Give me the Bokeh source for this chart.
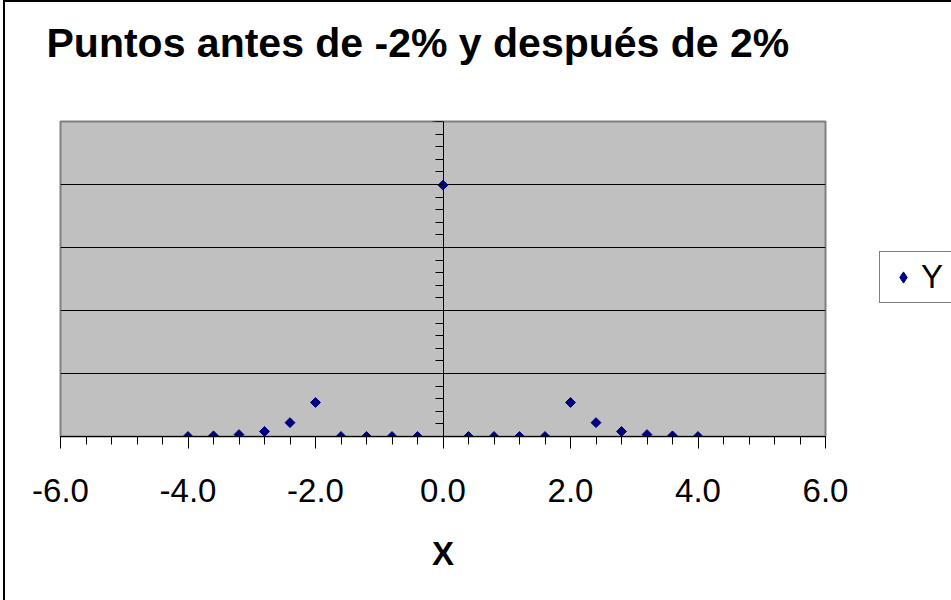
import numpy as np
from bokeh.plotting import figure
from bokeh.models import (Range1d, SingleIntervalTicker, PrintfTickFormatter,
                          Legend, LegendItem, LinearAxis, FixedTicker)
from bokeh.embed import file_html
from bokeh.resources import INLINE

# ---- data ----
x_values = [-4.0, -3.6, -3.2, -2.8, -2.4, -2.0, -1.6, -1.2, -0.8, -0.4, 0.0,
            0.4, 0.8, 1.2, 1.6, 2.0, 2.4, 2.8, 3.2, 3.6, 4.0]
y_values = [0.000, 0.001, 0.003, 0.008, 0.022, 0.054, 0.0, 0.0, 0.0, 0.0, 0.399,
            0.0, 0.0, 0.0, 0.0, 0.054, 0.022, 0.008, 0.003, 0.001, 0.000]
series_name = "Y"
title_text = "Puntos antes de -2% y después de 2%"
x_label = "X"

FONT = "Liberation Sans"
NAVY = "#000080"

p = figure(frame_width=765, frame_height=315,
           x_range=Range1d(-6, 6), y_range=Range1d(0, 0.5),
           output_backend="svg", toolbar_location=None,
           min_border_left=55, min_border_right=126,
           min_border_top=119, min_border_bottom=164)
p.styles = {"margin-left": "3px", "margin-top": "0px",
            "border-left": "2px solid black", "border-top": "2px solid black",
            "box-sizing": "content-box"}

p.background_fill_color = "#C0C0C0"
p.border_fill_color = "white"
p.outline_line_color = "#808080"
p.outline_line_width = 2

xax = p.below[0]
yax = p.left[0]

# title
p.title.text = title_text
p.title.text_font = FONT
p.title.text_font_size = "41px"
p.title.text_font_style = "bold"
p.title.text_color = "black"
p.title.align = "left"
p.title.offset = -14
p.title.vertical_align = "top"
p.title.standoff = 28

# y axis drawn at x = 0, no labels
yt = SingleIntervalTicker(interval=0.1, num_minor_ticks=5)
yax.fixed_location = 0
yax.ticker = yt
yax.major_tick_out = 11
yax.major_tick_in = 0
yax.minor_tick_out = 8
yax.minor_tick_in = 0
yax.axis_line_color = "black"
yax.major_tick_line_color = "black"
yax.minor_tick_line_color = "black"
yax.major_label_text_color = None
p.ygrid.ticker = yt
p.ygrid.grid_line_color = "black"
p.ygrid.grid_line_width = 1
p.xgrid.grid_line_color = None

# x axis
xt = SingleIntervalTicker(interval=2, num_minor_ticks=5)
xax.ticker = xt
xax.formatter = PrintfTickFormatter(format="%.1f")
xax.major_tick_out = 12
xax.major_tick_in = 0
xax.minor_tick_out = 8
xax.minor_tick_in = 0
xax.axis_line_color = "black"
xax.major_tick_line_color = "black"
xax.minor_tick_line_color = "black"
xax.major_label_text_font = FONT
xax.major_label_text_font_size = "33px"
xax.major_label_text_color = "black"
xax.major_label_standoff = 30
xax.axis_label = x_label
xax.axis_label_text_font = FONT
xax.axis_label_text_font_size = "33px"
xax.axis_label_text_font_style = "bold"
xax.axis_label_text_color = "black"
xax.axis_label_standoff = 30

# invisible spacer between title and plot area
spacer = LinearAxis(ticker=FixedTicker(ticks=[0]), major_tick_out=40,
                    major_tick_in=0, minor_tick_out=0, minor_tick_in=0,
                    major_label_standoff=0, axis_line_color=None,
                    major_tick_line_color=None, minor_tick_line_color=None,
                    major_label_text_color=None,
                    major_label_text_font_size="0px",
                    major_label_overrides={0: ""})
p.add_layout(spacer, "above")

# legend key renderer: same data, zero size in the plot, diamond in the legend
r_key = p.scatter(x_values, y_values, marker="diamond", size=0,
                  fill_color=NAVY, line_color=NAVY)

# data points (diamonds)
r = p.scatter(x_values, y_values, marker="square", angle=np.pi / 4, size=7,
              fill_color=NAVY, line_color=NAVY)

lg = Legend(items=[LegendItem(label=series_name, renderers=[r_key])],
            location=(54, 133))
lg.label_text_font = FONT
lg.label_text_font_size = "33px"
lg.label_text_color = "black"
lg.border_line_color = "black"
lg.border_line_width = 1
lg.background_fill_color = "white"
lg.background_fill_alpha = 1
lg.padding = 6
lg.margin = 0
lg.spacing = 0
lg.glyph_width = 34
lg.glyph_height = 28
lg.label_standoff = 1
lg.label_width = 40
p.add_layout(lg, "right")

open("out.html", "w").write(file_html(p, INLINE))
